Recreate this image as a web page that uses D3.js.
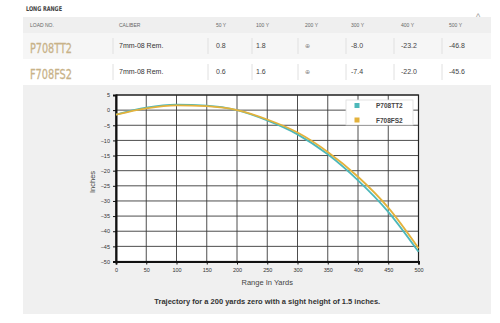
<!DOCTYPE html>
<html><head><meta charset="utf-8">
<script src="https://cdn.jsdelivr.net/npm/d3@7"></script>
<style>
html,body{margin:0;padding:0;background:#fff;}
svg{display:block;}
</style></head>
<body>
<script>
const ranges = [0, 50, 100, 150, 200, 250, 300, 350, 400, 450, 500];
const seriesNames = ["P708TT2", "F708FS2"];
const p708tt2 = [-1.5, 0.8, 1.8, 1.5, 0, -3.4, -8.0, -14.6, -23.2, -33.6, -46.8];
const f708fs2 = [-1.5, 0.6, 1.6, 1.3, 0, -3.1, -7.4, -13.8, -22.0, -32.2, -45.6];
const seriesColors = ["#4db8ba", "#e3b23c"];
const yTicks = [5, 0, -5, -10, -15, -20, -25, -30, -35, -40, -45, -50];
const xTicks = [0, 50, 100, 150, 200, 250, 300, 350, 400, 450, 500];
const tableHeaders = ["LOAD NO.", "CALIBER", "50 Y", "100 Y", "200 Y", "300 Y", "400 Y", "500 Y"];
const calibers = ["7mm-08 Rem.", "7mm-08 Rem."];
const tableRows = [["0.8", "1.8", "⊕", "-8.0", "-23.2", "-46.8"], ["0.6", "1.6", "⊕", "-7.4", "-22.0", "-45.6"]];

const W = 500, H = 323;
const svg = d3.select("body").append("svg").attr("width", W).attr("height", H);

// ---- Table ----
const font = "Liberation Sans, Arial, sans-serif";
const cond = "'Liberation Sans Narrow', 'DejaVu Sans Condensed', sans-serif";
svg.append("text").attr("x", 26).attr("y", 11).text("LONG RANGE")
  .attr("font-family", cond).attr("font-weight", "bold").attr("font-size", 6.5).attr("fill", "#444")
  .attr("textLength", 36).attr("lengthAdjust", "spacingAndGlyphs");
svg.append("text").attr("x", 478).attr("y", 20).text("^").attr("text-anchor", "middle")
  .attr("font-family", font).attr("font-size", 9).attr("fill", "#999");
svg.append("rect").attr("x", 23).attr("y", 17).attr("width", 468).attr("height", 16).attr("fill", "#efefef");
svg.append("rect").attr("x", 23).attr("y", 33).attr("width", 468).attr("height", 26).attr("fill", "#f6f6f6");
svg.append("rect").attr("x", 23).attr("y", 59).attr("width", 468).attr("height", 25).attr("fill", "#ffffff");
const colX = [30, 119, 216, 256, 305, 351, 401, 449];
tableHeaders.forEach((h, i) => {
  svg.append("text").attr("x", colX[i]).attr("y", 27).text(h)
    .attr("font-family", font).attr("font-size", 5).attr("fill", "#666");
});
const sepX = [113, 208, 252, 298, 346, 394, 442];
[33, 59].forEach((ry, r) => {
  sepX.forEach(sx => svg.append("line").attr("x1", sx).attr("x2", sx).attr("y1", ry + 5).attr("y2", ry + 21)
    .attr("stroke", "#e0e0e0").attr("stroke-width", 1));
  svg.append("text").attr("x", 30).attr("y", ry + 19.5).text(seriesNames[r])
    .attr("font-family", cond).attr("font-size", 14.5).attr("fill", "#c8b288")
    .attr("stroke", "#c8b288").attr("stroke-width", 0.3)
    .attr("textLength", 42).attr("lengthAdjust", "spacingAndGlyphs");
  svg.append("text").attr("x", 119).attr("y", ry + 15).text(calibers[r])
    .attr("font-family", font).attr("font-size", 7).attr("fill", "#333");
  tableRows[r].forEach((v, i) => {
    svg.append("text").attr("x", colX[i + 2]).attr("y", ry + 15).text(v)
      .attr("font-family", font).attr("font-size", i === 2 ? 6 : 7).attr("fill", i === 2 ? "#888" : "#444");
  });
});

// ---- Chart ----
svg.append("rect").attr("x", 23).attr("y", 85).attr("width", 468).attr("height", 229).attr("fill", "#f0f0f0");
const x = d3.scaleLinear().domain([0, 500]).range([116, 418.5]);
const y = d3.scaleLinear().domain([5, -50]).range([95, 261.5]);
svg.append("rect").attr("x", x(0)).attr("y", y(5)).attr("width", x(500) - x(0)).attr("height", y(-50) - y(5)).attr("fill", "#fff");

const g = svg.append("g");
g.selectAll(".vg").data(xTicks).join("line").attr("x1", d => x(d)).attr("x2", d => x(d))
  .attr("y1", y(5)).attr("y2", y(-50)).attr("stroke", "#3a3a3a").attr("stroke-width", 0.9);
g.selectAll(".hg").data(yTicks).join("line").attr("y1", d => y(d)).attr("y2", d => y(d))
  .attr("x1", x(0)).attr("x2", x(500)).attr("stroke", "#3a3a3a").attr("stroke-width", 0.9);
svg.append("rect").attr("x", x(0)).attr("y", y(5)).attr("width", x(500) - x(0)).attr("height", y(-50) - y(5))
  .attr("fill", "none").attr("stroke", "#222").attr("stroke-width", 1.2);

const yAxis = svg.append("g").attr("transform", `translate(${x(0)},0)`)
  .call(d3.axisLeft(y).tickValues(yTicks).tickSize(3).tickPadding(3));
const xAxis = svg.append("g").attr("transform", `translate(0,${y(-50)})`)
  .call(d3.axisBottom(x).tickValues(xTicks).tickSize(3).tickPadding(4));
[yAxis, xAxis].forEach(a => {
  a.select(".domain").attr("stroke", "#111").attr("stroke-width", 2);
  a.selectAll(".tick line").attr("stroke", "#111");
  a.selectAll("text").attr("font-family", font).attr("font-size", 5.5).attr("fill", "#333");
});

const line = d3.line().x(d => x(d[0])).y(d => y(d[1])).curve(d3.curveMonotoneX);
[p708tt2, f708fs2].forEach((vals, i) => {
  svg.append("path").datum(ranges.map((r, j) => [r, vals[j]])).attr("d", line)
    .attr("fill", "none").attr("stroke", seriesColors[i]).attr("stroke-width", 1.8);
});

// legend
svg.append("rect").attr("x", 346).attr("y", 100).attr("width", 67).attr("height", 25)
  .attr("fill", "#fff").attr("stroke", "#ddd").attr("stroke-width", 0.8);
seriesNames.forEach((n, i) => {
  svg.append("rect").attr("x", 354.5).attr("y", 103 + i * 14.5).attr("width", 5).attr("height", 5).attr("fill", seriesColors[i]);
  svg.append("text").attr("x", 376).attr("y", 108 + i * 14.5).text(n)
    .attr("font-family", font).attr("font-size", 6.5).attr("font-weight", "bold").attr("fill", "#444");
});

svg.append("text").attr("transform", `translate(95,182) rotate(-90)`).attr("text-anchor", "middle")
  .text("Inches").attr("font-family", font).attr("font-size", 7.5).attr("fill", "#444");
svg.append("text").attr("x", x(250)).attr("y", 285).attr("text-anchor", "middle")
  .text("Range In Yards").attr("font-family", font).attr("font-size", 7.5).attr("fill", "#444");
svg.append("text").attr("x", x(250)).attr("y", 304).attr("text-anchor", "middle")
  .text("Trajectory for a 200 yards zero with a sight height of 1.5 inches.")
  .attr("font-family", font).attr("font-size", 7.5).attr("font-weight", "bold").attr("fill", "#333");
</script>
</body></html>
